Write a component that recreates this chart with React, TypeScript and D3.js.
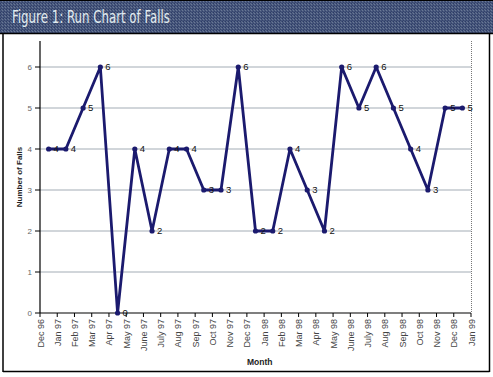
import React from "react";
import * as d3 from "d3";

const months = [
  "Dec 96", "Jan 97", "Feb 97", "Mar 97", "Apr 97", "May 97", "June 97", "July 97", "Aug 97",
  "Sep 97", "Oct 97", "Nov 97", "Dec 97", "Jan 98", "Feb 98", "Mar 98", "Apr 98", "May 98",
  "June 98", "July 98", "Aug 98", "Sep 98", "Oct 98", "Nov 98", "Dec 98", "Jan 99",
];
const falls = [4, 4, 5, 6, 0, 4, 2, 4, 4, 3, 3, 6, 2, 2, 4, 3, 2, 6, 5, 6, 5, 4, 3, 5, 5];
const yTicks = [0, 1, 2, 3, 4, 5, 6];
const title = "Figure 1: Run Chart of Falls";

const W = 493;
const H = 377;
const plot = { left: 40, right: 471, top: 41, bottom: 313 };
const navy = "#1b1a6e";

export default function App() {
  const x = d3.scaleLinear().domain([0, falls.length]).range([plot.left, plot.right]);
  const y = d3.scaleLinear().domain([0, 6]).range([plot.bottom, plot.bottom - 6 * 41]);
  const line = d3
    .line<number>()
    .x((_, i) => x(i + 0.5))
    .y((d) => y(d));

  const labelFont = "'Liberation Sans', Arial, sans-serif";

  return (
    <svg
      width={W}
      height={H}
      style={{ position: "absolute", left: 0, top: 0, background: "#fff" }}
    >
      <defs>
        <pattern id="dither" width="3" height="3" patternUnits="userSpaceOnUse">
          <rect width="3" height="3" fill="#45557a" />
          <rect x="0" y="0" width="1" height="1" fill="#2c3a66" />
          <rect x="2" y="1" width="1" height="1" fill="#6a7896" />
          <rect x="1" y="2" width="1" height="1" fill="#34426c" />
          <rect x="1" y="0" width="1" height="1" fill="#5a6a88" />
        </pattern>
      </defs>
      {/* title bar */}
      <rect x={0} y={0} width={W} height={34} fill="url(#dither)" />
      <line x1={0} x2={W} y1={0.5} y2={0.5} stroke="#000" />
      <line x1={0} x2={W} y1={33.5} y2={33.5} stroke="#000" strokeWidth={1.5} />
      <text
        x={12}
        y={23}
        fill="#e2ecf0"
        fontSize={17}
        textLength={158}
        lengthAdjust="spacingAndGlyphs"
        fontFamily="'DejaVu Sans Condensed', 'Liberation Sans Narrow', 'Roboto Condensed', sans-serif"
        style={{ fontStretch: "condensed" }}
      >
        {title}
      </text>
      {/* frame */}
      <line x1={3} x2={3} y1={34} y2={372} stroke="#000" strokeWidth={1.5} />
      <line x1={489.5} x2={489.5} y1={34} y2={372} stroke="#000" strokeWidth={1.5} />
      <line x1={3} x2={489.5} y1={371.5} y2={371.5} stroke="#000" strokeWidth={1.5} />

      {/* gridlines */}
      {yTicks
        .filter((t) => t > 0)
        .map((t) => (
          <line
            key={"g" + t}
            x1={plot.left}
            x2={plot.right}
            y1={y(t)}
            y2={y(t)}
            stroke="#a3acb5"
            strokeWidth={1}
          />
        ))}
      {/* right dotted border */}
      <line
        x1={plot.right + 0.5}
        x2={plot.right + 0.5}
        y1={plot.top}
        y2={plot.bottom}
        stroke="#777"
        strokeDasharray="1 1"
      />
      {/* y axis */}
      <line x1={plot.left} x2={plot.left} y1={plot.top} y2={plot.bottom} stroke="#000" strokeWidth={1.2} />
      {yTicks.map((t) => (
        <g key={"y" + t}>
          <line x1={plot.left - 5} x2={plot.left} y1={y(t)} y2={y(t)} stroke="#000" />
          <text
            x={32}
            y={y(t)}
            dy="0.35em"
            textAnchor="end"
            fontSize={8}
            fill="#666"
            fontFamily={labelFont}
          >
            {t}
          </text>
        </g>
      ))}
      <text
        transform={`translate(22,${(plot.top + plot.bottom) / 2}) rotate(-90)`}
        textAnchor="middle"
        fontSize={8}
        fontWeight="bold"
        fill="#222"
        fontFamily={labelFont}
      >
        Number of Falls
      </text>

      {/* x axis */}
      <line x1={plot.left} x2={plot.right} y1={plot.bottom} y2={plot.bottom} stroke="#000" strokeWidth={1.2} />
      {months.map((m, i) => (
        <g key={"x" + i}>
          <line x1={x(i)} x2={x(i)} y1={plot.bottom} y2={plot.bottom + 4} stroke="#000" />
          <text
            transform={`translate(${x(i) + 3.5},${plot.bottom + 6}) rotate(-90)`}
            textAnchor="end"
            fontSize={9}
            fill="#444"
            fontFamily={labelFont}
          >
            {m}
          </text>
        </g>
      ))}
      <text x={247} y={365} fontSize={8.5} fontWeight="bold" fill="#222" fontFamily={labelFont}>
        Month
      </text>

      {/* series */}
      <path d={line(falls) || ""} fill="none" stroke={navy} strokeWidth={2.8} strokeLinejoin="round" />
      {falls.map((v, i) => (
        <g key={"p" + i}>
          <circle cx={x(i + 0.5)} cy={y(v)} r={2.6} fill={navy} />
          <text
            x={x(i + 0.5) + 5}
            y={y(v)}
            dy="0.36em"
            fontSize={9.5}
            fill="#111"
            fontFamily={labelFont}
          >
            {v}
          </text>
        </g>
      ))}
    </svg>
  );
}
